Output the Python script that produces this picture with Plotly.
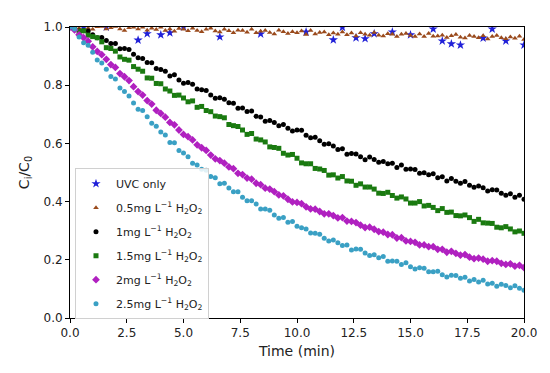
import plotly.graph_objects as go

time_min = [0.0, 0.2, 0.4, 0.6, 0.8, 1.0, 1.2, 1.4, 1.6, 1.8,
            2.0, 2.2, 2.4, 2.6, 2.8, 3.0, 3.2, 3.4, 3.6, 3.8,
            4.0, 4.2, 4.4, 4.6, 4.8, 5.0, 5.2, 5.4, 5.6, 5.8,
            6.0, 6.2, 6.4, 6.6, 6.8, 7.0, 7.2, 7.4, 7.6, 7.8,
            8.0, 8.2, 8.4, 8.6, 8.8, 9.0, 9.2, 9.4, 9.6, 9.8,
            10.0, 10.2, 10.4, 10.6, 10.8, 11.0, 11.2, 11.4, 11.6, 11.8,
            12.0, 12.2, 12.4, 12.6, 12.8, 13.0, 13.2, 13.4, 13.6, 13.8,
            14.0, 14.2, 14.4, 14.6, 14.8, 15.0, 15.2, 15.4, 15.6, 15.8,
            16.0, 16.2, 16.4, 16.6, 16.8, 17.0, 17.2, 17.4, 17.6, 17.8,
            18.0, 18.2, 18.4, 18.6, 18.8, 19.0, 19.2, 19.4, 19.6, 19.8, 20.0]

uvc_only = [1.000, 1.025, 1.030, 0.999, 1.028, 1.030, 1.026, 1.030, 1.000, 1.027,
            1.030, 1.025, 1.029, 1.026, 1.030, 0.955, 1.028, 0.977, 1.030, 1.026,
            0.973, 1.029, 0.980, 1.030, 1.027, 1.000, 1.030, 1.026, 1.030, 1.028,
            1.029, 1.030, 1.026, 0.966, 1.028, 1.030, 1.027, 1.030, 1.026, 1.030,
            1.028, 1.029, 0.976, 1.030, 1.026, 1.030, 1.027, 1.029, 1.030, 1.026,
            1.030, 1.028, 0.983, 1.030, 1.027, 1.029, 1.030, 1.026, 0.956, 1.030,
            0.999, 1.028, 1.030, 0.963, 1.027, 0.960, 1.030, 0.977, 1.026, 1.030,
            1.028, 0.983, 1.029, 1.030, 1.026, 0.973, 1.030, 1.027, 1.029, 1.030,
            0.993, 1.028, 0.952, 1.030, 0.942, 1.026, 0.938, 1.030, 1.027, 1.029,
            1.030, 0.962, 1.028, 0.993, 1.030, 1.026, 0.952, 1.030, 1.028, 1.029, 0.938]

h2o2_05 = [1.001, 1.004, 0.996, 1.007, 0.996, 0.992, 1.001, 1.002, 0.993, 0.997,
           1.002, 0.993, 0.988, 0.997, 0.999, 0.993, 0.999, 0.989, 0.996, 0.991,
           0.999, 0.988, 0.993, 0.985, 0.995, 0.992, 0.987, 0.996, 0.988, 0.984,
           0.992, 0.996, 0.986, 0.983, 0.992, 0.987, 0.980, 0.989, 0.988, 0.982,
           0.992, 0.980, 0.985, 0.988, 0.981, 0.976, 0.989, 0.984, 0.978, 0.984,
           0.980, 0.986, 0.974, 0.988, 0.976, 0.981, 0.983, 0.973, 0.979, 0.975,
           0.983, 0.973, 0.979, 0.969, 0.980, 0.975, 0.972, 0.981, 0.972, 0.969,
           0.977, 0.975, 0.967, 0.975, 0.978, 0.971, 0.967, 0.976, 0.967, 0.978,
           0.968, 0.969, 0.972, 0.964, 0.970, 0.974, 0.965, 0.962, 0.971, 0.967,
           0.963, 0.970, 0.959, 0.967, 0.971, 0.963, 0.960, 0.966, 0.961, 0.968, 0.957]

h2o2_1 = [1.000, 0.998, 0.986, 0.987, 0.986, 0.973, 0.963, 0.964, 0.954, 0.943,
          0.943, 0.925, 0.926, 0.923, 0.906, 0.894, 0.892, 0.878, 0.877, 0.857,
          0.854, 0.848, 0.832, 0.836, 0.818, 0.807, 0.809, 0.803, 0.787, 0.784,
          0.782, 0.766, 0.755, 0.757, 0.752, 0.740, 0.738, 0.721, 0.722, 0.710,
          0.711, 0.693, 0.691, 0.676, 0.679, 0.672, 0.661, 0.665, 0.652, 0.643,
          0.646, 0.645, 0.628, 0.619, 0.621, 0.609, 0.597, 0.599, 0.591, 0.579,
          0.582, 0.563, 0.565, 0.564, 0.554, 0.544, 0.553, 0.545, 0.535, 0.538,
          0.530, 0.532, 0.517, 0.526, 0.511, 0.512, 0.510, 0.497, 0.499, 0.492,
          0.496, 0.482, 0.485, 0.471, 0.479, 0.470, 0.463, 0.469, 0.456, 0.449,
          0.454, 0.448, 0.436, 0.441, 0.440, 0.429, 0.422, 0.427, 0.415, 0.422, 0.408]

h2o2_15 = [0.998, 1.000, 0.985, 0.987, 0.972, 0.967, 0.963, 0.949, 0.929, 0.926,
           0.917, 0.897, 0.889, 0.886, 0.864, 0.855, 0.848, 0.825, 0.824, 0.806,
           0.805, 0.787, 0.780, 0.765, 0.766, 0.756, 0.743, 0.746, 0.724, 0.727,
           0.713, 0.709, 0.694, 0.692, 0.688, 0.665, 0.661, 0.658, 0.646, 0.631,
           0.634, 0.615, 0.612, 0.605, 0.588, 0.586, 0.583, 0.566, 0.560, 0.562,
           0.549, 0.533, 0.530, 0.530, 0.514, 0.512, 0.507, 0.491, 0.492, 0.481,
           0.486, 0.471, 0.470, 0.456, 0.461, 0.450, 0.450, 0.443, 0.429, 0.428,
           0.432, 0.421, 0.412, 0.416, 0.409, 0.395, 0.395, 0.400, 0.385, 0.387,
           0.380, 0.369, 0.376, 0.363, 0.364, 0.352, 0.351, 0.354, 0.345, 0.332,
           0.339, 0.327, 0.326, 0.325, 0.312, 0.310, 0.314, 0.306, 0.296, 0.299, 0.291]

h2o2_2 = [1.000, 0.990, 0.973, 0.963, 0.951, 0.932, 0.916, 0.905, 0.889, 0.871,
          0.861, 0.840, 0.829, 0.816, 0.795, 0.778, 0.766, 0.747, 0.735, 0.714,
          0.703, 0.690, 0.672, 0.664, 0.646, 0.631, 0.623, 0.612, 0.595, 0.585,
          0.576, 0.560, 0.547, 0.541, 0.532, 0.519, 0.513, 0.497, 0.493, 0.481,
          0.477, 0.463, 0.458, 0.446, 0.443, 0.434, 0.423, 0.420, 0.408, 0.399,
          0.397, 0.393, 0.382, 0.375, 0.374, 0.366, 0.358, 0.358, 0.352, 0.344,
          0.345, 0.333, 0.332, 0.328, 0.319, 0.311, 0.312, 0.305, 0.297, 0.295,
          0.287, 0.286, 0.275, 0.276, 0.265, 0.263, 0.260, 0.251, 0.251, 0.245,
          0.245, 0.236, 0.236, 0.226, 0.229, 0.222, 0.216, 0.218, 0.209, 0.204,
          0.206, 0.202, 0.195, 0.197, 0.195, 0.188, 0.184, 0.186, 0.178, 0.181, 0.173]

h2o2_25 = [1.000, 0.993, 0.966, 0.946, 0.937, 0.913, 0.887, 0.876, 0.855, 0.830,
           0.821, 0.790, 0.778, 0.763, 0.739, 0.717, 0.713, 0.692, 0.669, 0.659,
           0.639, 0.629, 0.603, 0.602, 0.576, 0.567, 0.554, 0.532, 0.526, 0.511,
           0.508, 0.486, 0.482, 0.461, 0.463, 0.447, 0.434, 0.434, 0.415, 0.403,
           0.403, 0.392, 0.375, 0.375, 0.370, 0.354, 0.343, 0.345, 0.329, 0.332,
           0.315, 0.310, 0.306, 0.292, 0.291, 0.288, 0.274, 0.265, 0.268, 0.259,
           0.249, 0.251, 0.234, 0.237, 0.236, 0.223, 0.215, 0.217, 0.207, 0.211,
           0.195, 0.196, 0.195, 0.184, 0.190, 0.176, 0.168, 0.173, 0.171, 0.159,
           0.159, 0.161, 0.149, 0.141, 0.147, 0.146, 0.137, 0.140, 0.127, 0.132,
           0.124, 0.130, 0.117, 0.119, 0.109, 0.116, 0.112, 0.104, 0.111, 0.102, 0.095]

x_ticks = [0, 2.5, 5, 7.5, 10, 12.5, 15, 17.5, 20]
x_tick_labels = ["0.0", "2.5", "5.0", "7.5", "10.0", "12.5", "15.0", "17.5", "20.0"]
y_ticks = [0, 0.2, 0.4, 0.6, 0.8, 1.0]
y_tick_labels = ["0.0", "0.2", "0.4", "0.6", "0.8", "1.0"]

series = [
    ("UVC only", uvc_only, "star", "#2020d8", 7),
    ("0.5mg L<sup>\u22121</sup> H<sub>2</sub>O<sub>2</sub>", h2o2_05, "triangle-up", "#9a4a1c", 5),
    ("1mg L<sup>\u22121</sup> H<sub>2</sub>O<sub>2</sub>", h2o2_1, "circle", "#000000", 5),
    ("1.5mg L<sup>\u22121</sup> H<sub>2</sub>O<sub>2</sub>", h2o2_15, "square", "#1a7a10", 5),
    ("2mg L<sup>\u22121</sup> H<sub>2</sub>O<sub>2</sub>", h2o2_2, "diamond", "#b020c0", 6),
    ("2.5mg L<sup>\u22121</sup> H<sub>2</sub>O<sub>2</sub>", h2o2_25, "circle", "#3aa0c4", 5),
]

fig = go.Figure()
for i, (name, vals, sym, col, size) in enumerate(series):
    fig.add_trace(go.Scatter(
        x=time_min, y=vals, mode="markers", name=name, legendgroup=f"g{i}",
        cliponaxis=True,
        marker=dict(symbol=sym, color=col, size=size, line=dict(width=0)),
    ))

axis_common = dict(showline=True, linecolor="black", linewidth=1, mirror=True,
                   ticks="outside", ticklen=4, tickwidth=1, tickcolor="black",
                   showgrid=False, zeroline=False,
                   tickfont=dict(size=12, color="#222222"))

fig.update_layout(
    width=542, height=365,
    margin=dict(l=62, r=26, t=16, b=55),
    paper_bgcolor="white", plot_bgcolor="white",
    font=dict(family="DejaVu Sans", color="#222222"),
    showlegend=True,
    legend=dict(x=0.011, y=0.515, xanchor="left", yanchor="top",
                bgcolor="rgba(255,255,255,0.85)", bordercolor="#d0d0d0", borderwidth=1,
                font=dict(size=11), tracegroupgap=5, itemwidth=30),
    xaxis=dict(range=[0, 20], tickvals=x_ticks, ticktext=x_tick_labels,
               title=dict(text="Time (min)", font=dict(size=14), standoff=6), **axis_common),
    yaxis=dict(range=[0, 1], tickvals=y_ticks, ticktext=y_tick_labels,
               title=dict(text="C<sub>i</sub>/C<sub>0</sub>", font=dict(size=14), standoff=10), **axis_common),
)

fig.write_html("out.html")
